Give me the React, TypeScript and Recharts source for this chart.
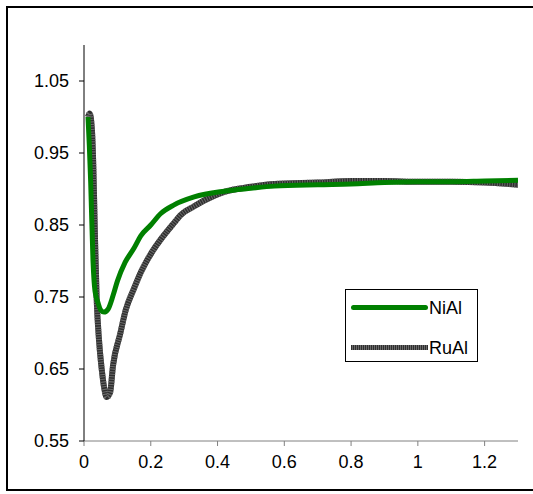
import { LineChart, Line, XAxis, YAxis } from 'recharts';

// NiAl curve (x, y)
const niAlX = [0.012, 0.016, 0.02, 0.027, 0.033, 0.042, 0.05, 0.06, 0.072, 0.087, 0.1, 0.123, 0.15, 0.17, 0.2, 0.23, 0.27, 0.33, 0.42, 0.5, 0.57, 0.7, 0.8, 0.9, 1.0, 1.1, 1.2, 1.3];
const niAlY = [1.0, 0.96, 0.91, 0.8, 0.758, 0.742, 0.732, 0.729, 0.733, 0.752, 0.772, 0.798, 0.818, 0.835, 0.85, 0.866, 0.878, 0.889, 0.897, 0.901, 0.904, 0.906, 0.907, 0.909, 0.91, 0.91, 0.911, 0.912];

// RuAl curve (x, y)
const ruAlX = [0.012, 0.017, 0.024, 0.028, 0.033, 0.038, 0.045, 0.053, 0.06, 0.068, 0.078, 0.087, 0.108, 0.125, 0.15, 0.17, 0.21, 0.23, 0.27, 0.29, 0.33, 0.36, 0.42, 0.5, 0.57, 0.7, 0.8, 0.9, 1.0, 1.1, 1.2, 1.3];
const ruAlY = [1.0, 1.005, 0.98, 0.93, 0.83, 0.747, 0.69, 0.65, 0.625, 0.611, 0.617, 0.655, 0.698, 0.732, 0.762, 0.784, 0.817, 0.83, 0.853, 0.864, 0.876, 0.884, 0.896, 0.903, 0.907, 0.909, 0.911, 0.911, 0.91, 0.91, 0.909, 0.906];

const xTicks = [0, 0.2, 0.4, 0.6, 0.8, 1, 1.2];
const yTicks = [0.55, 0.65, 0.75, 0.85, 0.95, 1.05];

const niAl = niAlX.map((x, i) => ({ x, y: niAlY[i] }));
const ruAl = ruAlX.map((x, i) => ({ x, y: ruAlY[i] }));

const font = '"Liberation Sans", Arial, sans-serif';

function LegendBox() {
  return (
    <div
      style={{
        position: 'absolute', left: 345, top: 289, width: 133, height: 73,
        border: '1px solid #000', background: '#fff', fontFamily: font, fontSize: 18,
        lineHeight: '20px', boxSizing: 'border-box',
      }}
    >
      <div style={{ position: 'absolute', left: 5, top: 15, width: 77, height: 5, background: '#008000', borderRadius: 3 }} />
      <div style={{ position: 'absolute', left: 83, top: 8 }}>NiAl</div>
      <div
        style={{
          position: 'absolute', left: 5, top: 55, width: 77, height: 5,
          background: 'repeating-linear-gradient(90deg, #2e2e2e 0px, #2e2e2e 1px, #6a6a6a 1px, #6a6a6a 2px)',
        }}
      />
      <div style={{ position: 'absolute', left: 83, top: 48 }}>RuAl</div>
    </div>
  );
}

export default function App() {
  return (
    <div style={{ position: 'fixed', left: 0, top: 0, width: 533, height: 494, background: '#fff' }}>
      <div
        style={{
          position: 'absolute', left: 6, top: 6, width: 540, height: 485,
          borderTop: '2px solid #000', borderLeft: '2px solid #000', borderBottom: '2px solid #000',
          boxSizing: 'border-box',
        }}
      />
      <div style={{ position: 'absolute', left: 0, top: 0 }}>
        <LineChart width={533} height={494} margin={{ top: 45, right: 15, left: 0, bottom: 23 }}>
          <XAxis
            dataKey="x"
            type="number"
            domain={[0, 1.3]}
            ticks={xTicks}
            allowDataOverflow
            stroke="#808080"
            tickLine={{ stroke: '#808080' }}
            tickSize={5}
            height={30}
            tick={{ fill: '#000', fontSize: 18, fontFamily: font }}
            tickMargin={9}
          />
          <YAxis
            type="number"
            domain={[0.55, 1.1]}
            ticks={yTicks}
            allowDataOverflow
            stroke="#000"
            tickSize={5}
            width={84}
            tick={{ fill: '#000', fontSize: 18, fontFamily: font }}
            tickMargin={10}
            tickFormatter={(v: number) => v.toFixed(2)}
          />
          <Line data={ruAl} dataKey="y" type="monotone" stroke="#2e2e2e" strokeWidth={6} dot={false} isAnimationActive={false} />
          <Line data={ruAl} dataKey="y" type="monotone" stroke="#6a6a6a" strokeWidth={6} strokeDasharray="1 1.5" dot={false} isAnimationActive={false} />
          <Line data={niAl} dataKey="y" type="monotone" stroke="#008000" strokeWidth={5} dot={false} isAnimationActive={false} />
        </LineChart>
      </div>
      <LegendBox />
    </div>
  );
}
